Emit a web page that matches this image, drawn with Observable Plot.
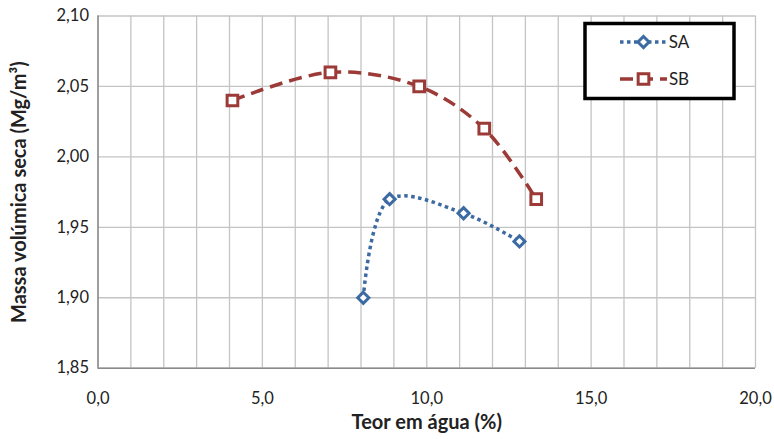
<!DOCTYPE html>
<html><head><meta charset="utf-8">
<script src="https://cdn.jsdelivr.net/npm/d3@7"></script>
<script src="https://cdn.jsdelivr.net/npm/@observablehq/plot@0.6"></script>
<style>body{margin:0;background:#fff;} #chart{position:relative;width:774px;height:439px;}</style>
</head><body><div id="chart"></div>
<script>
const seriesNames = ["SA", "SB"];
const saX = [8.07, 8.87, 11.12, 12.82];
const saY = [1.90, 1.97, 1.96, 1.94];
const sbX = [4.09, 7.07, 9.77, 11.75, 13.33];
const sbY = [2.04, 2.06, 2.05, 2.02, 1.97];
const xTicks = [0, 5, 10, 15, 20];
const xGrid = d3.range(0, 21, 1);
const yTicks = [1.85, 1.90, 1.95, 2.00, 2.05, 2.10];
const xTitle = "Teor em água (%)";
const yTitle = "Massa volúmica seca (Mg/m³)";

const colors = {SA: "#3c6aa3", SB: "#9b3a36"};
const sa = saX.map((x, i) => ({x, y: saY[i]}));
const sb = sbX.map((x, i) => ({x, y: sbY[i]}));
const loc = d3.formatLocale({decimal: ",", thousands: ".", grouping: [3], currency: ["", ""]});
const fx = loc.format(".1f"), fy = loc.format(".2f");
const font = "Lato, 'Open Sans', sans-serif";

const chart = Plot.plot({
  width: 774, height: 439,
  marginLeft: 97.5, marginRight: 19, marginTop: 15.5, marginBottom: 71.3,
  style: {fontFamily: font, fontSize: "16px", color: "#222", background: "#fff"},
  x: {domain: [0, 20], label: null},
  y: {domain: [1.85, 2.10], label: null},
  marks: [
    Plot.ruleX(xGrid, {stroke: "#c4c4c4", strokeWidth: 1.3, strokeOpacity: 1}),
    Plot.ruleY(yTicks, {stroke: "#c4c4c4", strokeWidth: 1.3, strokeOpacity: 1}),
    Plot.ruleX([0], {stroke: "#8a8a8a", strokeWidth: 1.5}),
    Plot.ruleY([1.85], {stroke: "#8a8a8a", strokeWidth: 1.5}),
    Plot.axisX({ticks: xTicks, tickFormat: fx, tickSize: 0, tickPadding: 24, label: null, fontSize: 16.5}),
    Plot.axisY({ticks: yTicks, tickFormat: fy, tickSize: 0, tickPadding: 9, label: null, fontSize: 16.5}),
    Plot.line(sa, {x: "x", y: "y", curve: "catmull-rom", stroke: colors.SA, strokeWidth: 3.5, strokeDasharray: "3.5 3.5", strokeLinecap: "butt"}),
    Plot.line(sb, {x: "x", y: "y", curve: "catmull-rom", stroke: colors.SB, strokeWidth: 3.5, strokeDasharray: "13 7", strokeLinecap: "butt"}),
    Plot.dot(sa, {x: "x", y: "y", symbol: "diamond2", r: 5, stroke: colors.SA, fill: "#fff", strokeWidth: 3}),
    Plot.dot(sb, {x: "x", y: "y", symbol: "square2", r: 6.8, stroke: colors.SB, fill: "#fff", strokeWidth: 3}),
    Plot.text([xTitle], {frameAnchor: "bottom", dy: 61, text: d => d, fontWeight: "bold", fontSize: 20, fill: "#222"}),
    Plot.text([yTitle], {frameAnchor: "left", dx: -78, rotate: -90, textAnchor: "middle", text: d => d, fontWeight: "bold", fontSize: 20, fill: "#222"})
  ]
});
document.getElementById("chart").appendChild(chart);

// legend
const svg = d3.select(chart);
const lg = svg.append("g").attr("font-family", font).attr("font-size", 17);
lg.append("rect").attr("x", 585).attr("y", 23.5).attr("width", 149).attr("height", 75)
  .attr("fill", "#fff").attr("stroke", "#000").attr("stroke-width", 3.5);
const entries = [
  {name: seriesNames[0], y: 42, dash: "3.5 3.5", sym: d3.symbolDiamond2, r: 5},
  {name: seriesNames[1], y: 79, dash: "13 7", sym: d3.symbolSquare2, r: 6.8}
];
for (const e of entries) {
  const c = colors[e.name];
  lg.append("line").attr("x1", 620).attr("x2", 667).attr("y1", e.y).attr("y2", e.y)
    .attr("stroke", c).attr("stroke-width", 3.5).attr("stroke-dasharray", e.dash);
  lg.append("path").attr("d", d3.symbol(e.sym, Math.PI * e.r * e.r)())
    .attr("transform", `translate(643.5,${e.y})`).attr("fill", "#fff").attr("stroke", c).attr("stroke-width", 3);
  lg.append("text").attr("x", 679).attr("y", e.y).attr("dy", "0.35em").attr("fill", "#222").text(e.name);
}
</script></body></html>
